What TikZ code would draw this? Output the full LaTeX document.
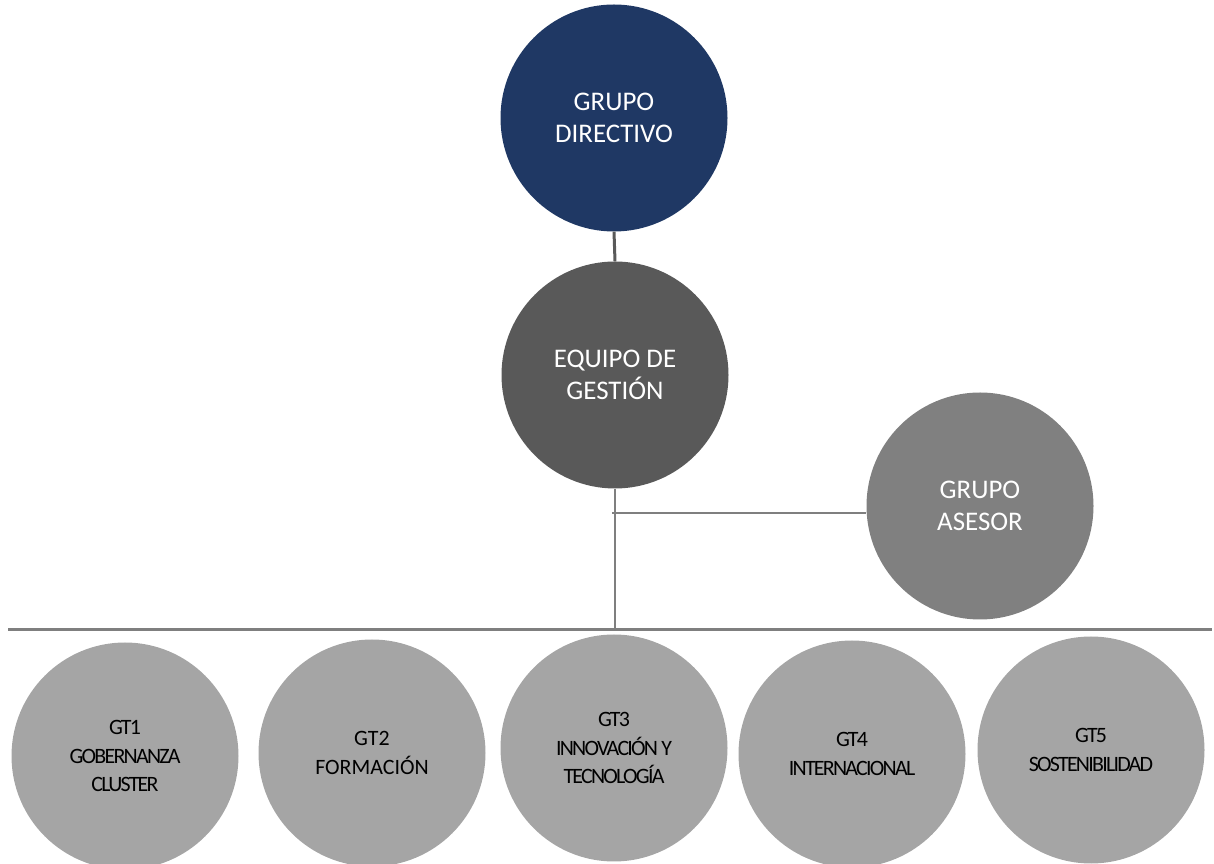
\documentclass[tikz,border=0pt]{standalone}
\usepackage{fontspec}
\setmainfont{Carlito}
\newfontfamily\condfont[LetterSpace=-8]{Carlito}
\usetikzlibrary{shapes}
\definecolor{dirblue}{HTML}{1F3864}
\definecolor{gesgray}{HTML}{595959}
\definecolor{asegray}{HTML}{808080}
\definecolor{gtgray}{HTML}{A5A5A5}
\definecolor{linegray}{HTML}{7F7F7F}

\begin{document}
\begin{tikzpicture}[>=latex]
      \tikzstyle{every node}=[circle, inner sep=0pt, align=center, minimum size=227bp]
      \tikzstyle{topnode}=[text=white, font=\fontsize{27}{32}\selectfont]
      \tikzstyle{gtnode}=[fill=gtgray, text=black, font=\condfont\fontsize{22}{29}\selectfont]
      \tikzstyle{link}=[draw=linegray, line width=2.5bp]
      %%
  \useasboundingbox (0bp,0bp) rectangle (1214bp,864bp);
  \node (gdir) at (614bp,746bp) [topnode,fill=dirblue] {GRUPO\\DIRECTIVO};
  \node (eqges) at (615bp,489bp) [topnode,fill=gesgray] {EQUIPO DE\\GESTIÓN};
  \node (gases) at (980bp,358bp) [topnode,fill=asegray] {GRUPO\\ASESOR};
  \node (gt1) at (125bp,108bp) [gtnode] {GT1\\GOBERNANZA\\CLUSTER};
  \node (gt2) at (372bp,111bp) [gtnode,font=\fontsize{22}{29}\selectfont] {GT2\\FORMACIÓN};
  \node (gt3) at (614bp,116bp) [gtnode] {GT3\\INNOVACIÓN Y\\TECNOLOGÍA};
  \node (gt4) at (852bp,110bp) [gtnode] {GT4\\INTERNACIONAL};
  \node (gt5) at (1091bp,114bp) [gtnode] {GT5\\SOSTENIBILIDAD};
  \coordinate (bus) at (615bp,234bp);
  \coordinate (busL) at (8bp,234bp);
  \coordinate (busR) at (1212bp,234bp);
  \coordinate (brnch) at (612bp,351bp);
  \draw [link,draw=gesgray,line width=3bp] (gdir.south) -- (eqges.north);
  \draw [link] (eqges.south) -- (bus);
  \draw [link] (brnch) -- (brnch -| gases.west);
  \draw [link,line width=3bp] (busL) -- (busR);
%
\end{tikzpicture}
\end{document}
